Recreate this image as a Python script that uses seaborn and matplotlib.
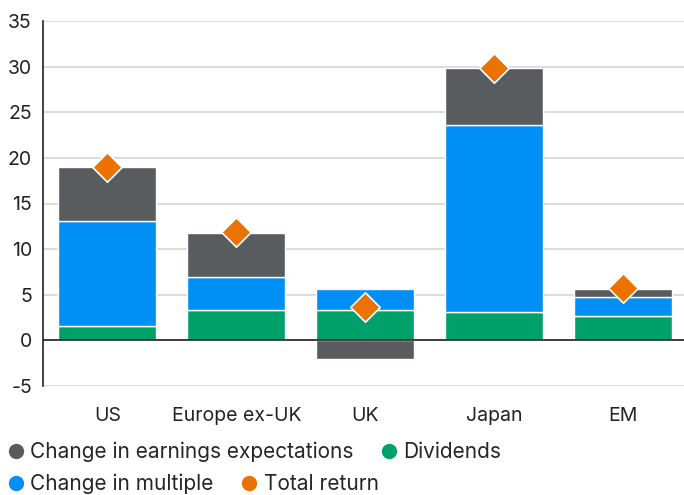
import numpy as np
import pandas as pd
import matplotlib
matplotlib.use('Agg')
import matplotlib.pyplot as plt
import seaborn as sns
from matplotlib.lines import Line2D

regions = ['US', 'Europe ex-UK', 'UK', 'Japan', 'EM']
dividends = [1.6, 3.3, 3.3, 3.1, 2.7]
multiple = [11.5, 3.7, 2.3, 20.5, 2.1]
earnings = [5.9, 4.8, -2.0, 6.3, 0.8]
total_return = [19.0, 11.9, 3.7, 29.9, 5.7]

c_earn = '#595c5f'
c_div = '#00a06b'
c_mult = '#008ff5'
c_total = '#ec7200'

sns.set_style('white')
plt.rcParams['font.family'] = ['Inter', 'DejaVu Sans']
plt.rcParams['axes.unicode_minus'] = False

df = pd.DataFrame({'region': regions, 'div': dividends, 'mult': multiple,
                   'earn': earnings, 'total': total_return})
df['mult_bottom'] = df['div']
df['earn_bottom'] = np.where(df['earn'] >= 0, df['div'] + df['mult'], 0)

fig = plt.figure(figsize=(6.84, 4.95), dpi=100)
ax = fig.add_axes([43 / 684, 1 - 386 / 495, 1 - 43 / 684, (386 - 21) / 495])

ax.grid(axis='y', color='#d6d6d6', linewidth=1.2, zorder=0)
ax.set_axisbelow(True)

bar_kw = dict(width=0.76, saturation=1, edgecolor='white', linewidth=1, zorder=2)
sns.barplot(data=df, x='region', y='div', color=c_div, ax=ax, **bar_kw)
sns.barplot(data=df, x='region', y='mult', bottom=df['mult_bottom'], color=c_mult, ax=ax, **bar_kw)
sns.barplot(data=df, x='region', y='earn', bottom=df['earn_bottom'], color=c_earn, ax=ax, **bar_kw)
sns.stripplot(data=df, x='region', y='total', jitter=False, marker='D', size=15,
              color=c_total, edgecolor='white', linewidth=1.2, ax=ax, zorder=4)

ax.axhline(0, color='#222222', linewidth=1.2, zorder=3)

ax.set_ylim(-5, 35)
ax.set_yticks(range(-5, 36, 5))
ax.set_xlim(-0.5, 4.47)
ax.set_xlabel('')
ax.set_ylabel('')
for s in ['top', 'right', 'bottom']:
    ax.spines[s].set_visible(False)
ax.spines['left'].set_color('#222222')
ax.spines['left'].set_linewidth(1.2)
ax.tick_params(axis='both', length=0, labelsize=14, colors='#222222')
ax.tick_params(axis='y', pad=8)
ax.tick_params(axis='x', pad=15)

# legend flows like text: one legend per row
def dot(c):
    return Line2D([], [], marker='o', linestyle='', color=c, markersize=10)

leg_kw = dict(ncol=2, loc='center left', frameon=False, fontsize=15, handletextpad=0.1,
              columnspacing=1.1, handlelength=1.2, borderaxespad=0, borderpad=0)
leg1 = fig.legend([dot(c_earn), dot(c_div)], ['Change in earnings expectations', 'Dividends'],
                  bbox_to_anchor=(0.0045, 1 - 452 / 495), **leg_kw)
leg2 = fig.legend([dot(c_mult), dot(c_total)], ['Change in multiple', 'Total return'],
                  bbox_to_anchor=(0.0045, 1 - 484 / 495), **leg_kw)

fig.savefig('out.png', dpi=100)
